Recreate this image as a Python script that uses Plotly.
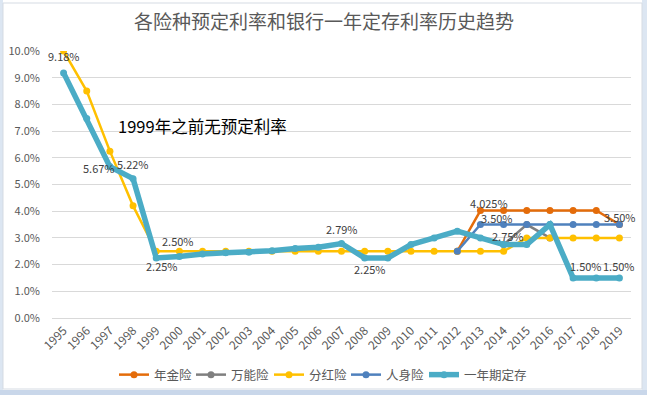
import plotly.graph_objects as go

years = [str(y) for y in range(1995, 2020)]

# values in percent; None = no data
annuity = [None]*17 + [2.5, 4.025, 4.025, 4.025, 4.025, 4.025, 4.025, 3.5]          # 年金险
universal = [None]*19 + [2.75, 3.5, 3.0, None, None, None]                           # 万能险
dividend = [10.0, 8.5, 6.25, 4.2] + [2.5]*16 + [3.0]*5                                # 分红险
life = [None]*17 + [2.5, 3.5, 3.5, 3.5, 3.5, 3.5, 3.5, 3.5]                           # 人身险
deposit = [9.18, 7.47, 5.67, 5.22, 2.25, 2.3, 2.4, 2.44, 2.46, 2.52, 2.6, 2.65, 2.79,
           2.25, 2.25, 2.75, 3.0, 3.25, 3.0, 2.75, 2.75, 3.5, 1.5, 1.5, 1.5]           # 一年期定存

names = ["年金险", "万能险", "分红险", "人身险", "一年期定存"]
colors = ["#E46C0A", "#7F7F7F", "#FFC000", "#4F81BD", "#4BACC6"]
widths = [2.5, 2.5, 2.5, 2.5, 5.5]
values = [annuity, universal, dividend, life, deposit]

# data labels: (series index, year, x offset px, y offset px)
labels = [
    (0, "2013", 9, 8), (0, "2019", 1, 8),
    (1, "2014", 4, 9),
    (2, "2000", -1, 10),
    (3, "2013", 17, 7),
    (4, "1995", 0, 17), (4, "1997", -11, -1), (4, "1998", 0, 15), (4, "1999", 6, -8),
    (4, "2007", 0, 15), (4, "2008", 5, -11), (4, "2018", -10, 12), (4, "2019", 0, 12),
]

def fmt(v):
    s = f"{v:.3f}".rstrip("0")
    if len(s.split(".")[1]) < 2:
        s = f"{v:.2f}"
    return s + "%"

def px(x):
    return (x - 52) / 579

def py(y):
    return (318 - y) / 267

legend_x = [114, 191, 269, 346, 424]

fig = go.Figure()
layout_legends = {}
for i, (name, vals, color, w) in enumerate(zip(names, values, colors, widths)):
    lg = "legend" if i == 0 else f"legend{i+1}"
    fig.add_trace(go.Scatter(
        x=years, y=vals, name=name, mode="lines+markers",
        line=dict(color=color, width=w),
        marker=dict(color=color, size=7),
        connectgaps=False, legend=lg,
    ))
    layout_legends[lg] = dict(orientation="h", x=px(legend_x[i]), xanchor="left", y=py(375),
                              yanchor="middle", font=dict(size=12.5, color="#595959"),
                              bgcolor="rgba(0,0,0,0)")

for si, yr, dx, dy in labels:
    idx = years.index(yr)
    v = values[si][idx]
    fig.add_annotation(x=idx, y=v, xref="x", yref="y", text=fmt(v), showarrow=False,
                       xshift=dx, yshift=dy, xanchor="center", yanchor="middle",
                       font=dict(size=11, color="#404040", family="Noto Sans CJK SC"))

fig.add_annotation(x=px(116), y=py(126), xref="paper", yref="paper", xanchor="left", yanchor="middle",
                   text="1999年之前无预定利率", showarrow=False,
                   font=dict(size=16.5, color="#000000", family="Noto Sans CJK SC"))

shapes = [
    dict(type="rect", xref="paper", yref="paper", x0=px(0), x1=px(3), y0=py(395), y1=py(0),
         fillcolor="#dce6f2", line=dict(width=0), layer="below"),
    dict(type="rect", xref="paper", yref="paper", x0=px(642), x1=px(647), y0=py(395), y1=py(0),
         fillcolor="#dce6f2", line=dict(width=0), layer="below"),
    dict(type="rect", xref="paper", yref="paper", x0=px(0), x1=px(647), y0=py(395), y1=py(390),
         fillcolor="#c9d7ea", line=dict(width=0), layer="below"),
    dict(type="rect", xref="paper", yref="paper", x0=px(3), x1=px(642), y0=py(389), y1=py(3),
         fillcolor="white", line=dict(color="#d5dbe3", width=1), layer="below"),
]

fig.update_layout(
    width=647, height=395,
    margin=dict(l=52, r=16, t=51, b=77, autoexpand=False),
    paper_bgcolor="white", plot_bgcolor="rgba(0,0,0,0)",
    font=dict(family="Noto Sans CJK SC", color="#595959", size=12),
    title=dict(text="各险种预定利率和银行一年定存利率历史趋势", x=px(324), xanchor="center",
               xref="paper", y=0.944, yanchor="middle", font=dict(size=19, color="#595959")),
    showlegend=True,
    shapes=shapes,
    **layout_legends,
)
fig.update_xaxes(type="category", range=[-0.5, 24.5], tickangle=-45, showgrid=False,
                 showline=True, linecolor="#d9d9d9", ticks="", tickfont=dict(size=12, color="#595959"))
fig.update_yaxes(range=[0, 10], dtick=1, tickformat=".1f", ticksuffix="%", showgrid=True,
                 gridcolor="#d9d9d9", zeroline=False, showline=False, ticks="",
                 tickfont=dict(size=11, color="#595959"), ticklabelstandoff=11)

fig.write_html("out.html", config={"displayModeBar": False},
               post_script="document.body.style.margin='0';document.body.style.overflow='hidden';")
